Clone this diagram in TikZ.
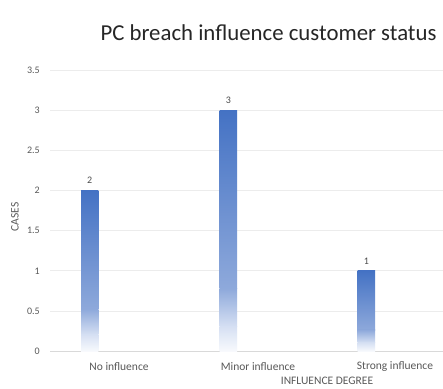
\documentclass[tikz,border=0pt]{standalone}
\usepackage{fontspec}
\setmainfont{Carlito}
\definecolor{barblue}{HTML}{4472C4}
\definecolor{barmid}{HTML}{8EA9DB}
\definecolor{barlight}{HTML}{D6E0F3}
\definecolor{gridc}{HTML}{ECECEC}
\definecolor{axisc}{HTML}{D9D9D9}
\definecolor{txt}{HTML}{595959}
\begin{document}
\begin{tikzpicture}[x=1pt,y=-1pt,
  ticklab/.style={anchor=east,font=\fontsize{10}{11}\selectfont,text=txt,inner sep=0pt},
  catlab/.style={font=\fontsize{11.5}{13}\selectfont,text=txt,inner sep=0pt},
  vallab/.style={font=\fontsize{10}{11}\selectfont,text=txt!85!black,inner sep=0pt},
  gridline/.style={draw=gridc,line width=0.8pt}]
\path[use as bounding box,fill=white] (0,0) rectangle (443,388);
% title
\node[anchor=base,font=\fontsize{22.8}{26}\selectfont,text=black!85,inner sep=0pt] (title) at (268.5,40) {PC breach influence customer status};
% grid and tick labels
\foreach \v/\lab in {0.5/0.5,1/1,1.5/1.5,2/2,2.5/2.5,3/3,3.5/3.5}{
  \draw[gridline] (50,{351-80.2*\v}) -- (443,{351-80.2*\v});
}
\foreach \v/\lab in {0/0,0.5/0.5,1/1,1.5/1.5,2/2,2.5/2.5,3/3,3.5/3.5}{
  \node[ticklab] at (40,{351-80.2*\v}) {\lab};
}
\draw[draw=axisc,line width=0.8pt] (50,351) -- (443,351);
% bars
\foreach \cx/\val/\nm in {89.7/2/a,228.3/3/b,366.3/1/c}{
  \pgfmathsetmacro{\ytop}{351-80.2*\val}
  \pgfmathsetmacro{\h}{80.2*\val}
  \pgfmathsetmacro{\ya}{\ytop+0.74*\h}
  \pgfmathsetmacro{\yb}{\ytop+0.90*\h}
  \shade[top color=barblue,bottom color=barmid] (\cx-8.7,\ytop) rectangle (\cx+8.7,\ya);
  \shade[top color=barmid,bottom color=barlight] (\cx-8.7,\ya-0.2) rectangle (\cx+8.7,\yb);
  \shade[top color=barlight,bottom color=white!96!barblue] (\cx-8.7,\yb-0.2) rectangle (\cx+8.7,351);
  \node[vallab] (v\nm) at (\cx,\ytop-10) {\val};
}
% category labels
\node[catlab] (c1) at (119,367) {No influence};
\node[catlab] (c2) at (258,367) {Minor influence};
\node[catlab] (c3) at (395,367) {Strong influence};
\node[catlab] (xt) at (327,381) {INFLUENCE DEGREE};
\node[catlab,rotate=90] (yt) at (15,217) {CASES};
\end{tikzpicture}
\end{document}
